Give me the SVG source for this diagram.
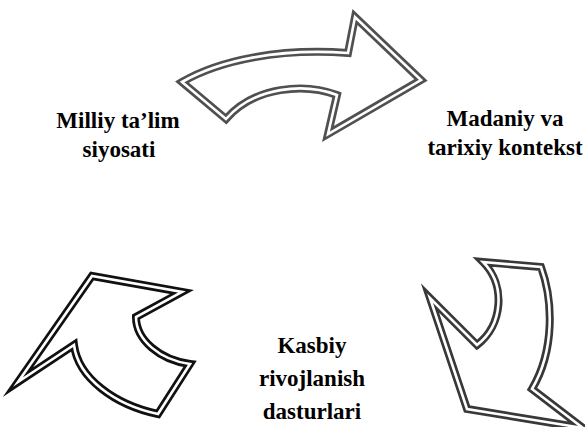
<svg xmlns="http://www.w3.org/2000/svg" width="585" height="427" viewBox="0 0 585 427">
<defs>
<style>
.outer{fill:#fff;stroke-width:8;stroke-linejoin:miter;stroke-miterlimit:10}
.gap{fill:none;stroke:#fff;stroke-width:2.6;stroke-linejoin:miter;stroke-miterlimit:10}
.lbl{font-family:"Liberation Serif","Times New Roman",serif;font-weight:bold;font-size:23px;fill:#000;text-anchor:middle}
</style>
</defs>
<rect width="585" height="427" fill="#fff"/>
<g id="connectors">
<g id="arrow-top">
<path class="outer" stroke="#505050" d="M182,82 C220,60 280,48 348,53 L355,17 L421,80 L328,134 L337,95 C305,83 255,86 226,119 Z"/>
<path class="gap" d="M182,82 C220,60 280,48 348,53 L355,17 L421,80 L328,134 L337,95 C305,83 255,86 226,119 Z"/>
</g>
<g id="arrow-right">
<path class="outer" stroke="#383838" d="M483,262 L541,267 C553,300 555,350 532,389 L583,428 L467,409 L430,298 L477,345 C503,325 506,285 483,262 Z"/>
<path class="gap" d="M483,262 L541,267 C553,300 555,350 532,389 L583,428 L467,409 L430,298 L477,345 C503,325 506,285 483,262 Z"/>
</g>
<g id="arrow-left">
<path class="outer" stroke="#111" d="M18,382 L92,276 L182,292 L136,317 C136,340 160,360 190,364 L158,414 C115,405 78,378 74,345 Z"/>
<path class="gap" d="M18,382 L92,276 L182,292 L136,317 C136,340 160,360 190,364 L158,414 C115,405 78,378 74,345 Z"/>
</g>
</g>
<g id="node-milliy">
<text class="lbl" x="118" y="127.5">Milliy ta’lim</text>
<text class="lbl" x="119" y="156.5">siyosati</text>
</g>
<g id="node-madaniy">
<text class="lbl" x="505" y="126">Madaniy va</text>
<text class="lbl" x="505" y="155">tarixiy kontekst</text>
</g>
<g id="node-kasbiy">
<text class="lbl" x="312" y="352.5">Kasbiy</text>
<text class="lbl" x="312" y="386">rivojlanish</text>
<text class="lbl" x="312" y="419">dasturlari</text>
</g>
</svg>
